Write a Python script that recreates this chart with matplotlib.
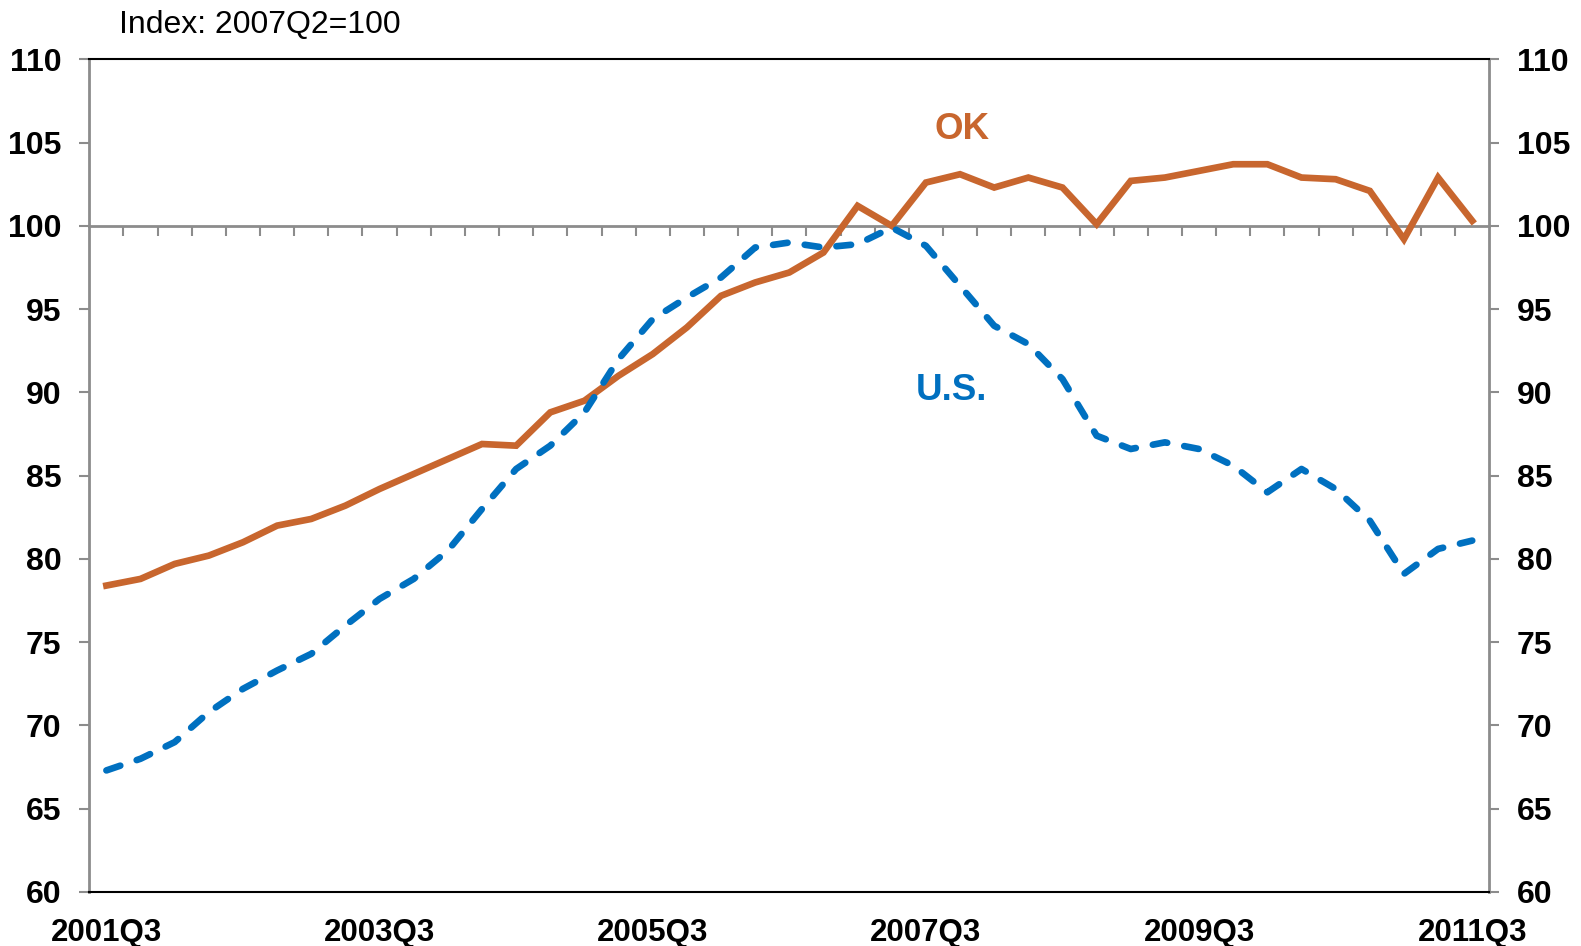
import matplotlib
matplotlib.use("Agg")
import matplotlib.pyplot as plt
import numpy as np

plt.rcParams["font.family"] = ["Liberation Sans", "DejaVu Sans"]

# quarterly, 2001Q3 .. 2011Q3
quarters = [f"{y}Q{q}" for y in range(2001, 2012) for q in range(1, 5)][2:43]
label_every = 8

ok = [78.4, 78.8, 79.7, 80.2, 81.0, 82.0, 82.4, 83.2, 84.2, 85.1,
      86.0, 86.9, 86.8, 88.8, 89.5, 91.0, 92.3, 93.9, 95.8, 96.6,
      97.2, 98.4, 101.2, 100.0, 102.6, 103.1, 102.3, 102.9, 102.3, 100.1,
      102.7, 102.9, 103.3, 103.7, 103.7, 102.9, 102.8, 102.1, 99.2, 102.9,
      100.3]
us = [67.3, 68.0, 69.0, 70.8, 72.2, 73.3, 74.3, 76.0, 77.6, 78.8,
      80.5, 83.0, 85.4, 86.8, 88.8, 92.0, 94.4, 95.7, 96.9, 98.7,
      99.0, 98.7, 98.9, 99.9, 98.8, 96.4, 94.0, 92.9, 90.8, 87.4,
      86.6, 87.0, 86.6, 85.6, 84.0, 85.4, 84.2, 82.3, 79.1, 80.6,
      81.1]

ORANGE = "#C8662E"
BLUE = "#0070C0"
GRAY = "#8c8c8c"

fig = plt.figure(figsize=(15.81, 9.46), dpi=100)
ax = fig.add_axes([0.0565, 0.0571, 0.8855, 0.8802])

x = np.arange(len(quarters))
ax.plot(x, ok, color=ORANGE, lw=4.8, solid_joinstyle="miter", zorder=3)
ax.plot(x, us, color=BLUE, lw=4.8, ls=(0, (2.2, 2.6)),
        dash_capstyle="round", zorder=3)

ax.set_xlim(-0.5, len(quarters) - 0.5)
ax.set_ylim(60, 110)
ax.set_yticks(range(60, 111, 5))
ax.set_xticks(x[::label_every])
ax.set_xticklabels(quarters[::label_every])
ax.tick_params(axis="x", length=0, pad=19, labelsize=22.5)
for lab in ax.get_xticklabels():
    lab.set_fontweight("bold")
ax.tick_params(axis="y", which="both", length=7, width=1.5, color=GRAY,
               pad=13, labelsize=23, left=True, right=True,
               labelleft=True, labelright=True)
for lab in ax.get_yticklabels(which="both"):
    lab.set_fontweight("bold")
for side in ("left", "right"):
    ax.spines[side].set_color(GRAY)
    ax.spines[side].set_linewidth(2)
for side in ("top", "bottom"):
    ax.spines[side].set_color("black")
    ax.spines[side].set_linewidth(1.5)

# category axis crossing at 100, with ticks between quarters
sec = ax.secondary_xaxis((100 - 60) / 50)
sec.set_xticks(x[:-1] + 0.5)
sec.set_xticklabels([])
sec.tick_params(axis="x", direction="in", length=7, width=1.5, color=GRAY)
for side in ("top", "bottom"):
    sec.spines[side].set_color(GRAY)
    sec.spines[side].set_linewidth(2)

ax.text(0.6234, 0.9157, "OK", transform=ax.transAxes, ha="center",
        va="center", fontsize=26.5, fontweight="bold", color=ORANGE)
ax.text(0.616, 0.6017, "U.S.", transform=ax.transAxes, ha="center",
        va="center", fontsize=26.5, fontweight="bold", color=BLUE)

fig.text(119 / 1581, 1 - 33 / 946, "Index: 2007Q2=100", ha="left",
         va="baseline", fontsize=23)

fig.savefig("out.png", dpi=100)
